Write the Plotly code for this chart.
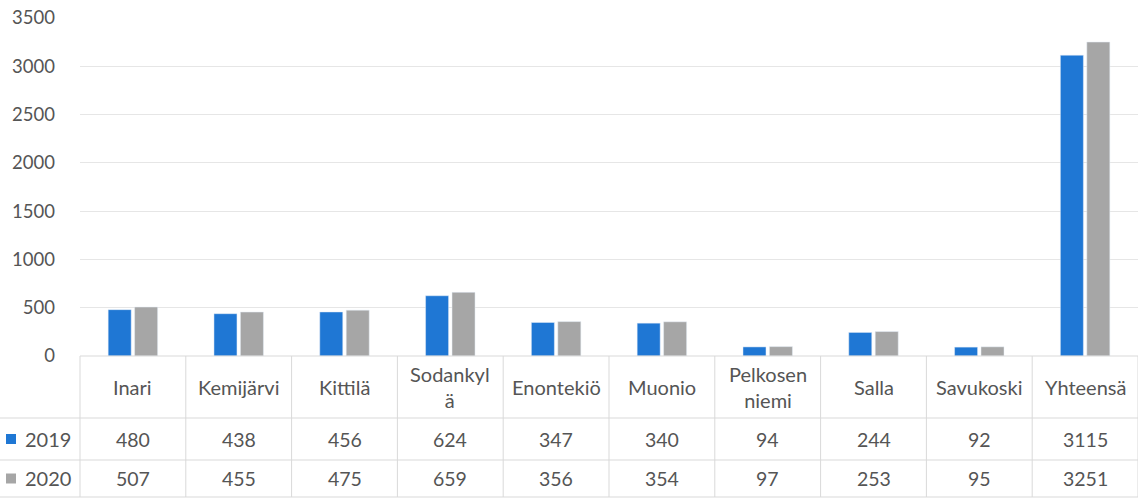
import plotly.graph_objects as go

categories = ["Inari", "Kemijärvi", "Kittilä", "Sodankyl<br>ä", "Enontekiö", "Muonio",
              "Pelkosen<br>niemi", "Salla", "Savukoski", "Yhteensä"]
series_names = ["2019", "2020"]
values_2019 = [480, 438, 456, 624, 347, 340, 94, 244, 92, 3115]
values_2020 = [507, 455, 475, 659, 356, 354, 97, 253, 95, 3251]
y_ticks = [0, 500, 1000, 1500, 2000, 2500, 3000, 3500]

W, H = 1138, 501
ML, MR, MT, MB = 80, 0, 18, 145
PH = H - MT - MB
BLUE = "#1f77d4"
GREY = "#a6a6a6"
TXT = "#555555"
LINE = "#d9d9d9"
FONT = "Lato"

x_idx = list(range(len(categories)))

fig = go.Figure()
fig.add_bar(x=x_idx, y=values_2019, name="2019", marker_color=BLUE)
fig.add_bar(x=x_idx, y=values_2020, name="2020", marker_color=GREY)

def py(p):  # pixel y -> paper y
    return (H - MB - p) / PH

def px(p):  # pixel x -> paper x
    return (p - ML) / (W - ML - MR)

n = len(categories)
row_tops = [356, 418, 460, 497]
shapes = []
shapes.append(dict(type="line", xref="paper", yref="paper", x0=0, x1=1, y0=py(row_tops[0]), y1=py(row_tops[0]),
                   line=dict(color=LINE, width=1)))
for r in row_tops[1:]:
    shapes.append(dict(type="line", xref="paper", yref="paper", x0=px(0), x1=1, y0=py(r), y1=py(r),
                       line=dict(color=LINE, width=1)))
for i in range(n + 1):
    shapes.append(dict(type="line", xref="paper", yref="paper", x0=i / n, x1=i / n,
                       y0=py(row_tops[0]), y1=py(row_tops[-1]), line=dict(color=LINE, width=1)))
for k, color in enumerate([BLUE, GREY]):
    cy = (row_tops[k + 1] + row_tops[k + 2]) / 2
    shapes.append(dict(type="rect", xref="paper", yref="paper", x0=px(6), x1=px(16),
                       y0=py(cy + 5), y1=py(cy - 5), fillcolor=color, line=dict(width=0)))

annotations = []
hy = (row_tops[0] + row_tops[1]) / 2
for i, c in enumerate(categories):
    annotations.append(dict(text=c, xref="paper", yref="paper", x=(i + 0.5) / n, y=py(hy),
                            showarrow=False, xanchor="center", yanchor="middle",
                            font=dict(family=FONT, size=20, color=TXT)))
for k, (name, vals) in enumerate(zip(series_names, [values_2019, values_2020])):
    cy = (row_tops[k + 1] + row_tops[k + 2]) / 2
    annotations.append(dict(text=name, xref="paper", yref="paper", x=px(23), y=py(cy),
                            showarrow=False, xanchor="left", yanchor="middle",
                            font=dict(family=FONT, size=20, color=TXT)))
    for i, v in enumerate(vals):
        annotations.append(dict(text=str(v), xref="paper", yref="paper", x=(i + 0.5) / n, y=py(cy),
                                showarrow=False, xanchor="center", yanchor="middle",
                                font=dict(family=FONT, size=19.5, color=TXT)))

fig.update_layout(
    width=W, height=H,
    margin=dict(l=ML, r=MR, t=MT, b=MB, pad=0),
    paper_bgcolor="white", plot_bgcolor="white",
    showlegend=False,
    barmode="group", bargap=0.5, bargroupgap=0.13,
    font=dict(family=FONT, color=TXT),
    shapes=shapes, annotations=annotations,
    xaxis=dict(range=[-0.5, n - 0.5], showticklabels=False, showgrid=False, zeroline=False,
               showline=False, ticks="", fixedrange=True),
    yaxis=dict(range=[0, 3500], tickvals=y_ticks, showgrid=True, gridcolor="#e6e6e6", gridwidth=1,
               zeroline=False, showline=False, ticks="", ticklabelstandoff=24,
               tickfont=dict(family=FONT, size=18.5, color=TXT)),
)

fig.write_html("out.html", config={"displayModeBar": False},
               post_script="document.body.style.margin='0';document.body.style.overflow='hidden';")
